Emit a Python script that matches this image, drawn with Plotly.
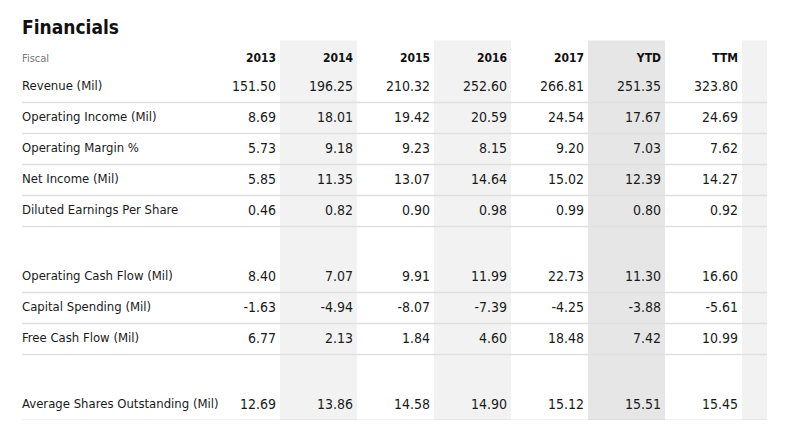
import plotly.graph_objects as go

# ---------------- dados ----------------
titulo = "Financials"
cabecalho = "Fiscal"
colunas = ["2013", "2014", "2015", "2016", "2017", "YTD", "TTM"]

revenue = ["151.50", "196.25", "210.32", "252.60", "266.81", "251.35", "323.80"]
operating_income = ["8.69", "18.01", "19.42", "20.59", "24.54", "17.67", "24.69"]
operating_margin = ["5.73", "9.18", "9.23", "8.15", "9.20", "7.03", "7.62"]
net_income = ["5.85", "11.35", "13.07", "14.64", "15.02", "12.39", "14.27"]
diluted_eps = ["0.46", "0.82", "0.90", "0.98", "0.99", "0.80", "0.92"]
operating_cash_flow = ["8.40", "7.07", "9.91", "11.99", "22.73", "11.30", "16.60"]
capital_spending = ["-1.63", "-4.94", "-8.07", "-7.39", "-4.25", "-3.88", "-5.61"]
free_cash_flow = ["6.77", "2.13", "1.84", "4.60", "18.48", "7.42", "10.99"]
avg_shares = ["12.69", "13.86", "14.58", "14.90", "15.12", "15.51", "15.45"]

# None = linha vazia (espaco entre blocos)
linhas = [
    ("Revenue (Mil)", revenue),
    ("Operating Income (Mil)", operating_income),
    ("Operating Margin %", operating_margin),
    ("Net Income (Mil)", net_income),
    ("Diluted Earnings Per Share", diluted_eps),
    None,
    ("Operating Cash Flow (Mil)", operating_cash_flow),
    ("Capital Spending (Mil)", capital_spending),
    ("Free Cash Flow (Mil)", free_cash_flow),
    None,
    ("Average Shares Outstanding (Mil)", avg_shares),
]

# ---------------- layout (px da pagina) ----------------
MARGEM = 8          # margem do <body> na pagina gerada
W, H = 802 - 2 * MARGEM, 428 - 2 * MARGEM
COL_W = 77          # largura de cada coluna
X0_PX = 203 - MARGEM   # borda esquerda da coluna 2013
ROW_H = 31
Y0_PX = 40.5 - MARGEM  # topo da linha de cabecalho
GAP = 35 / 31       # altura relativa das linhas vazias

FONTE = "DejaVu Sans Condensed, Liberation Sans Narrow, Arial Narrow, sans-serif"
SOMBRA = "#f2f2f2"
SOMBRA_YTD = "#e6e6e6"
LINHA = "#e0e0e0"
LINHA_FIM = "#c8c8c8"

x_label = (22 - MARGEM - X0_PX) / COL_W
x_fim = len(colunas) + 25 / COL_W
pad = 4 / COL_W

# posicoes verticais (em unidades de linha)
y_centros = []
y_bases = []
y = 1.0
for item in linhas:
    h = GAP if item is None else 1.0
    y_centros.append(y + h / 2)
    y_bases.append(y + h)
    y += h
y_total = y

fig = go.Figure()

# colunas sombreadas
for i in range(len(colunas)):
    if i % 2 == 1 or colunas[i] == "YTD":
        cor = SOMBRA_YTD if colunas[i] == "YTD" else SOMBRA
        fig.add_shape(type="rect", x0=i, x1=i + 1, y0=0, y1=y_total,
                      fillcolor=cor, line_width=0, layer="below")
fig.add_shape(type="rect", x0=len(colunas), x1=x_fim, y0=0, y1=y_total,
              fillcolor=SOMBRA, line_width=0, layer="below")

# linhas horizontais
for k, item in enumerate(linhas):
    if item is None:
        continue
    cor = LINHA_FIM if k == len(linhas) - 1 else LINHA
    fig.add_shape(type="line", x0=x_label, x1=x_fim, y0=y_bases[k], y1=y_bases[k],
                  line=dict(color=cor, width=1.3))

# rotulos
rot_y = [y_centros[k] for k, it in enumerate(linhas) if it is not None]
rot_txt = [it[0] for it in linhas if it is not None]
fig.add_trace(go.Scatter(
    x=[x_label] * len(rot_txt), y=rot_y, text=rot_txt,
    mode="text", textposition="middle right",
    textfont=dict(family=FONTE, size=13, color="#1a1a1a"),
    marker=dict(size=0), hoverinfo="skip",
))
fig.add_trace(go.Scatter(
    x=[x_label], y=[0.6], text=[cabecalho],
    mode="text", textposition="middle right",
    textfont=dict(family=FONTE, size=11, color="#777777"),
    marker=dict(size=0), hoverinfo="skip",
))

# cabecalho das colunas
fig.add_trace(go.Scatter(
    x=[i + 1 - pad for i in range(len(colunas))], y=[0.6] * len(colunas),
    text=[f"<b>{c}</b>" for c in colunas],
    mode="text", textposition="middle left",
    textfont=dict(family=FONTE, size=12, color="#111111"),
    marker=dict(size=0), hoverinfo="skip",
))

# valores
for i, col in enumerate(colunas):
    vals = [it[1][i] for it in linhas if it is not None]
    fig.add_trace(go.Scatter(
        x=[i + 1 - pad] * len(vals), y=rot_y, text=vals,
        mode="text", textposition="middle left",
        textfont=dict(family=FONTE, size=14, color="#1a1a1a"),
        marker=dict(size=0), hoverinfo="skip", name=col,
    ))

fig.update_layout(
    width=W, height=H,
    margin=dict(l=0, r=0, t=0, b=0),
    paper_bgcolor="white", plot_bgcolor="white",
    showlegend=False,
    title=dict(text=f"<b>{titulo}</b>", x=(22 - MARGEM) / W, xanchor="left",
               y=1 - (27 - MARGEM) / H, yanchor="middle",
               font=dict(family=FONTE, size=19, color="#111111")),
    xaxis=dict(range=[-X0_PX / COL_W, (W - X0_PX) / COL_W], visible=False, fixedrange=True),
    yaxis=dict(range=[(H - Y0_PX) / ROW_H, -Y0_PX / ROW_H], visible=False, fixedrange=True),
)

fig.write_html("out.html")
